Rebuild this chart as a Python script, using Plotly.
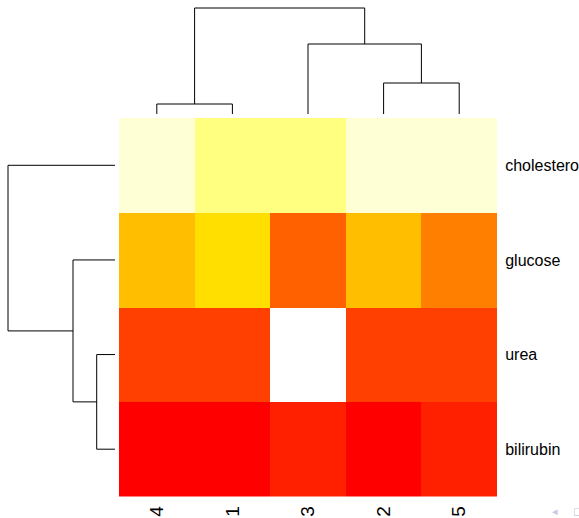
import plotly.graph_objects as go

# ---- data ----
col_labels = ["4", "1", "3", "2", "5"]                       # display order (left to right)
row_labels = ["bilirubin", "urea", "glucose", "cholesterol"]  # bottom to top

# colour level (index into heat.colors(12)) for each cell, columns in display order
bilirubin = [0, 0, 1, 0, 1]
urea = [2, 2, None, 2, 2]
glucose = [6, 7, 3, 6, 4]
cholesterol = [11, 10, 10, 11, 11]

heat_colors = ["#FF0000", "#FF2000", "#FF4000", "#FF6000", "#FF8000", "#FF9F00",
               "#FFBF00", "#FFDF00", "#FFFF00", "#FFFF2A", "#FFFF80", "#FFFFD5"]

# column dendrogram merges: (left, right, height); leaves are ints (positions), nodes "n<i>"
col_merges = [(0, 1, 1.0), (3, 4, 3.1), (2, "n1", 7.0), ("n0", "n2", 10.6)]
# row dendrogram merges (positions bottom-to-top)
row_merges = [(0, 1, 1.83), (2, "n0", 4.2), (3, "n1", 10.7)]


def dendro_segments(merges):
    pos, hgt = {}, {}
    xs, ys = [], []

    def get(k):
        if isinstance(k, int):
            return float(k), 0.0
        return pos[k], hgt[k]

    for i, (a, b, h) in enumerate(merges):
        pa, ha = get(a)
        pb, hb = get(b)
        xs += [pa, pa, pb, pb, None]
        ys += [ha, h, h, hb, None]
        pos["n%d" % i] = (pa + pb) / 2
        hgt["n%d" % i] = h
    return xs, ys


W, H = 579, 518
hx0, hx1 = 119, 497   # heatmap px
hy0, hy1 = 118, 496.5

n = len(heat_colors)
cs = []
for i, c in enumerate(heat_colors):
    cs.append([i / n, c])
    cs.append([(i + 1) / n, c])

z = [bilirubin, urea, glucose, cholesterol]

fig = go.Figure()
fig.add_trace(go.Heatmap(z=z, x=list(range(len(col_labels))), y=list(range(len(row_labels))),
                         colorscale=cs, zmin=-0.5, zmax=n - 0.5, showscale=False,
                         hoverongaps=False, xaxis="x", yaxis="y"))

cx, cy = dendro_segments(col_merges)
fig.add_trace(go.Scatter(x=cx, y=cy, mode="lines", line=dict(color="black", width=1),
                         xaxis="x2", yaxis="y2", hoverinfo="skip"))
ry, rx = dendro_segments(row_merges)
fig.add_trace(go.Scatter(x=rx, y=ry, mode="lines", line=dict(color="black", width=1),
                         xaxis="x3", yaxis="y3", hoverinfo="skip"))

row_font = dict(family="Liberation Sans, Arial, sans-serif", size=16, color="black")
col_font = dict(family="Liberation Sans, Arial, sans-serif", size=19, color="black")

fig.update_layout(
    width=W, height=H, margin=dict(l=0, r=0, t=0, b=0),
    paper_bgcolor="white", plot_bgcolor="white", showlegend=False,
    template="none",
    xaxis=dict(domain=[hx0 / W, hx1 / W], range=[-0.5, 4.5], tickvals=list(range(5)),
               ticktext=col_labels, tickangle=-90, tickfont=col_font, showgrid=False,
               zeroline=False, showline=False, ticks="outside", ticklen=1,
               tickcolor="rgba(0,0,0,0)", automargin=False, anchor="y", fixedrange=True),
    yaxis=dict(domain=[(H - hy1) / H, (H - hy0) / H], range=[-0.5, 3.5],
               tickvals=list(range(4)), ticktext=row_labels, side="right", tickfont=row_font,
               showgrid=False, zeroline=False, showline=False, ticks="outside", ticklen=4,
               tickcolor="rgba(0,0,0,0)", automargin=False, anchor="x", fixedrange=True),
    xaxis2=dict(domain=[hx0 / W, hx1 / W], range=[-0.5, 4.5], visible=False, anchor="y2"),
    yaxis2=dict(domain=[(H - 114) / H, (H - 6) / H], range=[0, 10.8], visible=False, anchor="x2"),
    xaxis3=dict(domain=[6 / W, 115 / W], range=[10.9, 0], visible=False, anchor="y3"),
    yaxis3=dict(domain=[(H - hy1) / H, (H - hy0) / H], range=[-0.5, 3.5], visible=False, anchor="x3"),
)

nav = dict(family="DejaVu Sans", size=11, color="#C8C8E6")
fig.add_annotation(text="◂", xref="paper", yref="paper", x=555 / W, y=(H - 511) / H,
                   xanchor="center", yanchor="middle", showarrow=False, font=nav)
fig.add_annotation(text="◻", xref="paper", yref="paper", x=571 / W, y=(H - 511) / H,
                   xanchor="left", yanchor="middle", showarrow=False, font=nav)

fig.write_html("out.html", config={"displayModeBar": False},
               post_script="document.body.style.margin='0';")
